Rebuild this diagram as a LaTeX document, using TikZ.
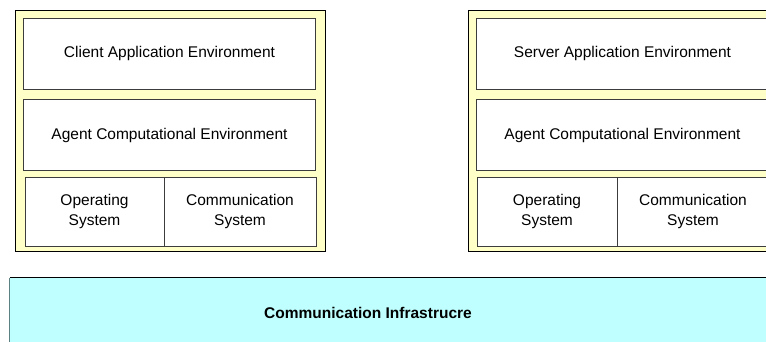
\documentclass[tikz,border=0pt]{standalone}
\usepackage{fontspec}
\setmainfont{Liberation Sans}
\definecolor{outerfill}{RGB}{255,255,200}
\definecolor{bandfill}{RGB}{192,255,255}
\definecolor{innerline}{RGB}{60,60,60}
\definecolor{bandside}{RGB}{90,130,130}
\tikzset{
  outerbox/.style={draw=black, fill=outerfill, line width=0.9pt, minimum width=310pt, minimum height=241pt, inner sep=0pt},
  layerbox/.style={draw=innerline, fill=white, line width=0.9pt, minimum width=292pt, minimum height=71pt, inner sep=0pt, align=center, font=\fontsize{15.5}{19.5}\selectfont},
  cellbox/.style={draw=innerline, fill=white, line width=0.9pt, minimum height=69pt, inner sep=0pt, align=center, font=\fontsize{15.5}{19.5}\selectfont},
  bandbox/.style={fill=bandfill, minimum width=770pt, minimum height=70pt, inner sep=0pt},
  bandtext/.style={font=\bfseries\fontsize{15.5}{19.5}\selectfont, inner sep=0pt}
}
\begin{document}
\begin{tikzpicture}[x=1pt,y=-1pt]
\useasboundingbox (0,0) rectangle (766,342);
\clip (0,0) rectangle (766,342);
% left stack
\node[outerbox] (lo) at (170,130.5) {};
\node[layerbox] (lapp) at (169.5,53.5) {Client Application Environment};
\node[layerbox] (lace) at (169.5,135) {Agent Computational Environment};
\node[cellbox, minimum width=139pt] (los) at (94.5,211.5) {Operating\\System};
\node[cellbox, minimum width=152pt] (lcs) at (240,211.5) {Communication\\System};
% right stack
\node[outerbox] (ro) at (623,130.5) {};
\node[layerbox] (rapp) at (622.5,53.5) {Server Application Environment};
\node[layerbox] (race) at (622.5,135) {Agent Computational Environment};
\node[cellbox, minimum width=140pt] (ros) at (547,211.5) {Operating\\System};
\node[cellbox, minimum width=152pt] (rcs) at (693,211.5) {Communication\\System};
% communication infrastructure band
\node[bandbox] (band) at (395,313) {};
\draw[black, line width=0.9pt] (band.north west) -- (band.north east);
\draw[bandside, line width=0.9pt] (band.north west) -- (band.south west);
\node[bandtext] (bandlabel) at (368,313) {Communication Infrastrucre};
\end{tikzpicture}
\end{document}
